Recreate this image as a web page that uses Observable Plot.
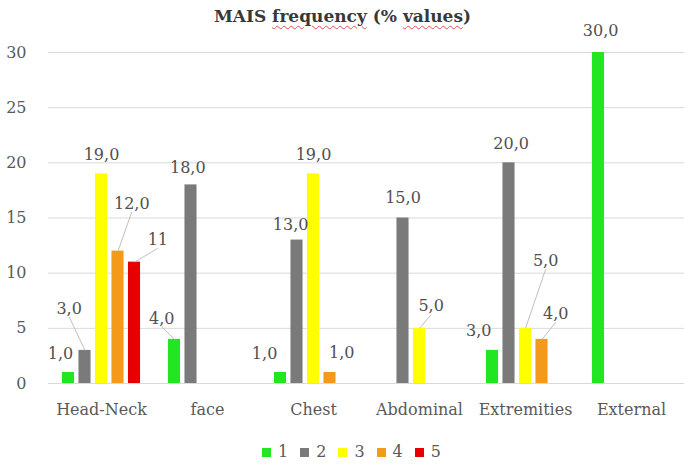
<!DOCTYPE html>
<html>
<head>
<meta charset="utf-8">
<script src="https://cdn.jsdelivr.net/npm/d3@7"></script>
<script src="https://cdn.jsdelivr.net/npm/@observablehq/plot@0.6"></script>
<style>
  html, body { margin: 0; padding: 0; background: #fff; }
  #wrap { position: relative; width: 685px; height: 465px; font-family: "DejaVu Serif", serif; }
  #title { position: absolute; top: 5px; left: 0; width: 685px; text-align: center;
           font-size: 17px; font-weight: bold; color: #383838; line-height: 22px; z-index: 2; }
  #title .sp { text-decoration: underline wavy #e05050; text-decoration-thickness: 1px; text-underline-offset: 3px; }
  #legend { display: flex; justify-content: center; align-items: center; margin-top: 8px;
            font-size: 16px; color: #595959; line-height: 18px; padding-left: 18px; }
  #legend .item { display: flex; align-items: center; margin: 0 6px; }
  #legend .sw { width: 9px; height: 9px; margin-right: 7px; }
</style>
</head>
<body>
<div id="wrap">
  <div id="title">MAIS <span class="sp">frequency</span> (% <span class="sp">values</span>)</div>
  <div id="chart"></div>
  <div id="legend"></div>
</div>
<script>
// ---- data ----
const categories = ["Head-Neck", "face", "Chest", "Abdominal", "Extremities", "External"];
const seriesNames = ["1", "2", "3", "4", "5"];
const mais1 = [1, 4, 1, null, 3, 30];
const mais2 = [3, 18, 13, 15, 20, null];
const mais3 = [19, null, 19, 5, 5, null];
const mais4 = [12, null, 1, null, 4, null];
const mais5 = [11, null, null, null, null, null];
const yTicks = [0, 5, 10, 15, 20, 25, 30];

// label placement nudges (category units, value units); leader = callout line
const labelNudge = [
  {cat: "Head-Neck", s: "1", dx: -0.075, dy: 1.7},
  {cat: "Head-Neck", s: "2", dx: -0.15, dy: 3.8, leader: true},
  {cat: "Head-Neck", s: "3", dx: 0, dy: 1.7},
  {cat: "Head-Neck", s: "4", dx: 0.13, dy: 4.3, leader: true},
  {cat: "Head-Neck", s: "5", dx: 0.22, dy: 2.0, leader: true},
  {cat: "face", s: "1", dx: -0.12, dy: 1.9, leader: true},
  {cat: "face", s: "2", dx: -0.03, dy: 1.5},
  {cat: "Chest", s: "1", dx: -0.15, dy: 1.7},
  {cat: "Chest", s: "2", dx: -0.06, dy: 1.4},
  {cat: "Chest", s: "3", dx: 0, dy: 1.7},
  {cat: "Chest", s: "4", dx: 0.11, dy: 1.8},
  {cat: "Abdominal", s: "2", dx: 0, dy: 1.8},
  {cat: "Abdominal", s: "3", dx: 0.11, dy: 2.0, leader: true},
  {cat: "Extremities", s: "1", dx: -0.13, dy: 1.8},
  {cat: "Extremities", s: "2", dx: 0.02, dy: 1.7},
  {cat: "Extremities", s: "3", dx: 0.19, dy: 6.1, leader: true},
  {cat: "Extremities", s: "4", dx: 0.13, dy: 2.3, leader: true},
  {cat: "External", s: "1", dx: 0.02, dy: 2.0}
];

const colors = ["#22e622", "#7a7a7a", "#ffff00", "#f39a1b", "#e60000"];

// ---- build table ----
const SLOT = 0.1557, HALF = 0.057;
const seriesValues = [mais1, mais2, mais3, mais4, mais5];
const rows = [];
seriesValues.forEach((vals, k) => {
  vals.forEach((v, i) => {
    if (v == null) return;
    const cat = categories[i], s = seriesNames[k];
    const n = labelNudge.find(d => d.cat === cat && d.s === s) || {dx: 0, dy: 1.7};
    const xc = i + (k - 2) * SLOT;
    rows.push({category: cat, series: s, value: v, xc, lx: xc + n.dx, ly: v + n.dy, leader: !!n.leader});
  });
});
const fmt = d => d.series === "5" ? String(d.value) : d.value.toFixed(1).replace(".", ",");

const chart = Plot.plot({
  width: 685,
  height: 435,
  marginLeft: 48,
  marginRight: 1,
  marginTop: 52,
  marginBottom: 52,
  style: {fontFamily: "DejaVu Serif, serif", fontSize: "16px", color: "#595959", background: "#fff", overflow: "visible"},
  x: {domain: [-0.5, 5.5], ticks: 6, tickFormat: i => categories[i] ?? "", tickSize: 0, tickPadding: 20, label: null},
  y: {domain: [0, 30], ticks: 6, tickSize: 0, tickPadding: 22, label: null},
  color: {domain: seriesNames, range: colors},
  marks: [
    Plot.ruleY(yTicks, {stroke: "#d9d9d9", strokeWidth: 1}),
    Plot.rectY(rows, {x1: d => d.xc - HALF, x2: d => d.xc + HALF, y: "value", fill: "series"}),
    Plot.link(rows.filter(d => d.leader), {x1: "xc", y1: "value", x2: "lx", y2: d => d.ly - 0.75, stroke: "#c0c0c0", strokeWidth: 1}),
    Plot.text(rows, {x: "lx", y: "ly", text: fmt, fill: "#505050", fontSize: 16})
  ]
});
document.getElementById("chart").appendChild(chart);

// legend
const leg = document.getElementById("legend");
seriesNames.forEach((s, k) => {
  const it = document.createElement("div");
  it.className = "item";
  const sw = document.createElement("span");
  sw.className = "sw";
  sw.style.background = colors[k];
  const t = document.createElement("span");
  t.textContent = s;
  it.appendChild(sw); it.appendChild(t);
  leg.appendChild(it);
});
</script>
</body>
</html>
